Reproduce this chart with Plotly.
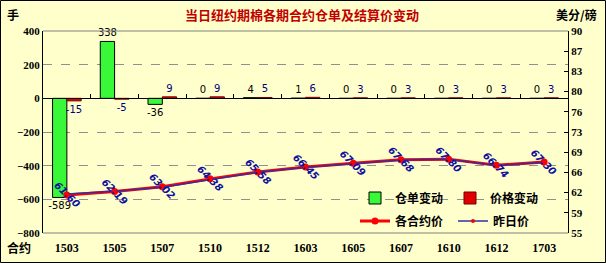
import plotly.graph_objects as go

# ---- data ----
contracts = ['1503', '1505', '1507', '1510', '1512', '1603', '1605', '1607', '1610', '1612', '1703']
receipt_change = [-589, 338, -36, 0, 4, 1, 0, 0, 0, 0, 0]          # 仓单变动 (手)
price_change = [-15, -5, 9, 9, 5, 6, 3, 3, 3, 3, 3]                 # 价格变动
settle_price = [61.60, 62.19, 63.02, 64.38, 65.58, 66.45, 67.09, 67.68, 67.80, 66.74, 67.30]  # 各合约价
prev_price = [61.75, 62.24, 62.93, 64.29, 65.53, 66.39, 67.06, 67.65, 67.77, 66.71, 67.27]    # 昨日价

title_text = '当日纽约期棉各期合约仓单及结算价变动'
left_unit = '手'
right_unit = '美分/磅'
x_title = '合约'

BG = '#FFFFCC'
W, H = 606, 263
ML, MR, MT, MB = 43, 38, 31, 30
PW, PH = W - ML - MR, H - MT - MB

num_font = dict(family='Liberation Serif, Times New Roman, serif', size=11, color='black', weight='bold')
cjk = 'Noto Sans CJK SC, sans-serif'


def px_to_paper_x(px):
    return (px - ML) / PW


def px_to_paper_y(py):
    return (H - MB - py) / PH


fig = go.Figure()

fig.add_trace(go.Bar(
    x=contracts, y=receipt_change, name='仓单变动',
    marker=dict(color='#38F838', line=dict(color='black', width=1)),
    text=[str(v) for v in receipt_change], textposition='outside', constraintext='none',
    textfont=dict(family='DejaVu Sans, sans-serif', size=10, color='black'),
    cliponaxis=False, legend='legend',
))
fig.add_trace(go.Bar(
    x=contracts, y=price_change, name='价格变动',
    marker=dict(color='#E00000', line=dict(color='#700000', width=1)),
    text=[str(v) for v in price_change], textposition='outside', constraintext='none',
    textfont=dict(family='DejaVu Sans, sans-serif', size=10, color='#000080'),
    cliponaxis=False, legend='legend2',
))
fig.add_trace(go.Scatter(
    x=contracts, y=settle_price, name='各合约价', yaxis='y2', mode='lines+markers',
    line=dict(color='#FF0000', width=3), marker=dict(color='#FF0000', size=7),
    legend='legend3', cliponaxis=False,
))
fig.add_trace(go.Scatter(
    x=contracts, y=prev_price, name='昨日价', yaxis='y2', mode='lines+markers',
    line=dict(color='#3030A0', width=1.5), marker=dict(color='#FF0000', size=4),
    legend='legend4', cliponaxis=False,
))

annotations = []
for i, p in enumerate(settle_price):
    annotations.append(dict(
        x=i, y=p, xref='x', yref='y2', text=f'{p:.2f}', showarrow=False, textangle=45,
        xanchor='center', yanchor='middle',
        font=dict(family='DejaVu Sans, sans-serif', size=10, color='#1010A0', weight='bold', style='italic'),
    ))

annotations += [
    dict(text=title_text, x=px_to_paper_x(302), y=px_to_paper_y(15), xref='paper', yref='paper',
         xanchor='center', yanchor='middle', showarrow=False,
         font=dict(family=cjk, size=13, color='#C00000', weight='bold')),
    dict(text=left_unit, x=px_to_paper_x(13), y=px_to_paper_y(15), xref='paper', yref='paper',
         xanchor='center', yanchor='middle', showarrow=False,
         font=dict(family=cjk, size=12, color='black', weight='bold')),
    dict(text=right_unit, x=px_to_paper_x(576), y=px_to_paper_y(15), xref='paper', yref='paper',
         xanchor='center', yanchor='middle', showarrow=False,
         font=dict(family=cjk, size=12, color='black', weight='bold')),
    dict(text=x_title, x=px_to_paper_x(19), y=px_to_paper_y(247), xref='paper', yref='paper',
         xanchor='center', yanchor='middle', showarrow=False,
         font=dict(family=cjk, size=12, color='black', weight='bold')),
]

shapes = [
    # top and bottom frame of plot area
    dict(type='line', xref='paper', yref='paper', x0=0, x1=1, y0=1, y1=1, line=dict(color='#808080', width=1)),
    dict(type='line', xref='paper', yref='paper', x0=0, x1=1, y0=0, y1=0, line=dict(color='#808080', width=1)),
    # outer border of chart
    dict(type='rect', xref='paper', yref='paper',
         x0=px_to_paper_x(0.5), x1=px_to_paper_x(W - 0.5), y0=px_to_paper_y(H - 0.5), y1=px_to_paper_y(0.5),
         line=dict(color='black', width=1)),
]


def leg(px, py):
    return dict(orientation='h', x=px_to_paper_x(px), y=px_to_paper_y(py), xanchor='left', yanchor='middle',
                bgcolor='rgba(0,0,0,0)', font=dict(family=cjk, size=12, color='black', weight='bold'),
                itemwidth=30)


fig.update_layout(
    width=W, height=H, margin=dict(l=ML, r=MR, t=MT, b=MB),
    paper_bgcolor=BG, plot_bgcolor=BG,
    barmode='group', bargap=0.4, bargroupgap=0,
    showlegend=True,
    legend=leg(355, 198),
    legend2=leg(450, 198),
    legend3=leg(355, 221),
    legend4=leg(453, 221),
    xaxis=dict(type='category', categoryarray=contracts, range=[-0.5, len(contracts) - 0.5],
               anchor='free', position=800 / 1200, showline=True, linecolor='black', linewidth=1,
               ticks='inside', ticklen=4, tickcolor='black', tickson='boundaries', showgrid=False,
               tickfont=dict(family='Liberation Serif, Times New Roman, serif', size=12, color='black', weight='bold'),
               ticklabelstandoff=138, automargin=False, fixedrange=True),
    yaxis=dict(range=[-800, 400], dtick=200, tick0=0, showgrid=True, gridcolor='#909090', griddash='dash',
               zeroline=False, showline=True, linecolor='black', linewidth=1, ticks='',
               tickfont=num_font, automargin=False, fixedrange=True),
    yaxis2=dict(range=[55, 90], tick0=55, dtick=3.5, tickformat='.0f', overlaying='y', side='right',
                showgrid=False, zeroline=False, showline=True, linecolor='black', linewidth=1,
                ticks='inside', ticklen=4, tickcolor='black', tickfont=num_font, automargin=False, fixedrange=True),
    annotations=annotations,
    shapes=shapes,
)

fig.write_html('out.html')
